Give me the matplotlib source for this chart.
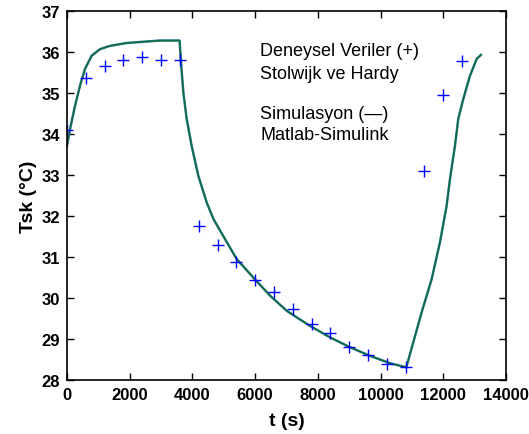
import numpy as np
import matplotlib.pyplot as plt

plt.rcParams['font.family'] = ['Liberation Sans', 'DejaVu Sans']

# Experimental data (Stolwijk & Hardy)
exp_t = [0, 600, 1200, 1800, 2400, 3000, 3600, 4200, 4800, 5400, 6000, 6600,
         7200, 7800, 8400, 9000, 9600, 10200, 10800, 11400, 12000, 12600]
exp_T = [34.10, 35.37, 35.66, 35.80, 35.88, 35.80, 35.80, 31.76, 31.29, 30.87,
         30.45, 30.15, 29.73, 29.37, 29.15, 28.80, 28.61, 28.40, 28.32, 33.10,
         34.94, 35.79]

# Simulation (Matlab-Simulink)
sim_t = [0, 96, 255, 415, 574, 787, 1052, 1371, 1903, 2435, 2966, 3590,
         3635, 3709, 3816, 3975, 4188, 4455, 4667, 5038, 5411, 5941, 6473,
         7004, 7323, 7749, 8386, 9024, 9662, 10300, 10820,
         11310, 11629, 11894, 12107, 12213, 12372, 12478, 12637, 12851,
         13064, 13201]
sim_T = [33.71, 34.12, 34.69, 35.18, 35.59, 35.91, 36.07, 36.15, 36.22, 36.25,
         36.28, 36.28,
         35.75, 35.02, 34.37, 33.71, 32.98, 32.33, 31.93, 31.44, 30.95, 30.50,
         30.06, 29.69, 29.53, 29.32, 29.04, 28.80, 28.59, 28.41, 28.31,
         29.65, 30.46, 31.36, 32.25, 32.90, 33.71, 34.37, 34.85, 35.42,
         35.83, 35.93]

fig = plt.figure(figsize=(5.29, 4.35), dpi=100)
ax = fig.add_axes([0.1267, 0.1241, 0.8298, 0.8483])

ax.plot(sim_t, sim_T, color='#3a7fa8', lw=1.8)
ax.plot(sim_t, sim_T, color='#0e6b3c', lw=1.1)
ax.plot(exp_t, exp_T, '+', color='#0000ff', ms=9, mew=1.0)

ax.set_xlim(0, 14000)
ax.set_ylim(28, 37)
ax.set_xticks(np.arange(0, 14001, 2000))
ax.set_yticks(np.arange(28, 38, 1))
ax.tick_params(direction='in', top=True, right=True, length=5, width=1,
               labelsize=12, pad=5)
for lab in ax.get_xticklabels() + ax.get_yticklabels():
    lab.set_fontweight('bold')
for s in ax.spines.values():
    s.set_linewidth(1.2)

ax.set_xlabel('t (s)', fontsize=14, fontweight='bold', labelpad=7)
ax.set_ylabel('Tsk (°C)', fontsize=14, fontweight='bold', labelpad=3)

txt_kw = dict(transform=ax.transAxes, fontsize=13, va='baseline', ha='left')
ax.text(0.440, 0.881, 'Deneysel Veriler (+)', **txt_kw)
ax.text(0.440, 0.818, 'Stolwijk ve Hardy', **txt_kw)
ax.text(0.440, 0.709, 'Simulasyon (—)', **txt_kw)
ax.text(0.440, 0.653, 'Matlab-Simulink', **txt_kw)

fig.savefig('out.png', dpi=100)
